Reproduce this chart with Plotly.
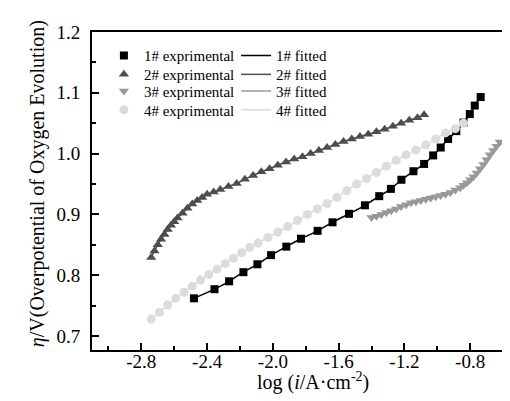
import plotly.graph_objects as go

# ---------------- data ----------------
x1 = [-2.48, -2.355, -2.266, -2.179, -2.094, -2.011, -1.918, -1.829, -1.728, -1.637,
      -1.537, -1.440, -1.353, -1.282, -1.218, -1.145, -1.080, -1.025, -0.979, -0.934,
      -0.884, -0.840, -0.802, -0.772, -0.736]
y1 = [0.762, 0.777, 0.790, 0.805, 0.818, 0.833, 0.847, 0.860, 0.873, 0.887,
      0.901, 0.915, 0.930, 0.942, 0.957, 0.971, 0.983, 0.997, 1.010, 1.024,
      1.037, 1.051, 1.065, 1.079, 1.093]

x2 = [-2.74, -2.72, -2.70, -2.68, -2.66, -2.64, -2.62, -2.60, -2.58, -2.55,
      -2.52, -2.49, -2.46, -2.43, -2.40, -2.36, -2.32, -2.27, -2.22, -2.17,
      -2.12, -2.07, -2.02, -1.97, -1.92, -1.87, -1.82, -1.77, -1.72, -1.67,
      -1.62, -1.57, -1.52, -1.47, -1.42, -1.37, -1.32, -1.27, -1.22, -1.17,
      -1.12, -1.08]
y2 = [0.829, 0.840, 0.850, 0.859, 0.867, 0.875, 0.882, 0.888, 0.894, 0.902,
      0.910, 0.917, 0.923, 0.928, 0.933, 0.937, 0.941, 0.946, 0.951, 0.958,
      0.964, 0.970, 0.975, 0.981, 0.986, 0.991, 0.995, 1.000, 1.005, 1.010,
      1.015, 1.020, 1.024, 1.028, 1.032, 1.036, 1.040, 1.045, 1.050, 1.055,
      1.059, 1.064]

x3 = [-1.40, -1.37, -1.34, -1.31, -1.28, -1.25, -1.22, -1.19, -1.16, -1.13,
      -1.10, -1.07, -1.04, -1.01, -0.98, -0.95, -0.92, -0.89, -0.86, -0.84,
      -0.82, -0.80, -0.78, -0.76, -0.74, -0.72, -0.70, -0.68, -0.66, -0.64,
      -0.62]
y3 = [0.895, 0.897, 0.900, 0.903, 0.906, 0.909, 0.913, 0.916, 0.919, 0.921,
      0.923, 0.925, 0.927, 0.929, 0.931, 0.933, 0.936, 0.940, 0.944, 0.948,
      0.952, 0.957, 0.962, 0.968, 0.975, 0.982, 0.990, 0.998, 1.005, 1.012,
      1.019]

x4 = [-2.74, -2.69, -2.64, -2.59, -2.54, -2.49, -2.44, -2.39, -2.34, -2.29,
      -2.24, -2.19, -2.14, -2.09, -2.03, -1.97, -1.91, -1.85, -1.79, -1.73,
      -1.67, -1.61, -1.55, -1.49, -1.43, -1.37, -1.31, -1.25, -1.19, -1.13,
      -1.07, -1.01, -0.95, -0.89, -0.84]
y4 = [0.728, 0.739, 0.751, 0.762, 0.772, 0.782, 0.792, 0.801, 0.810, 0.819,
      0.828, 0.837, 0.846, 0.853, 0.862, 0.871, 0.880, 0.890, 0.900, 0.909,
      0.918, 0.928, 0.939, 0.950, 0.959, 0.969, 0.979, 0.989, 0.998, 1.006,
      1.014, 1.024, 1.034, 1.041, 1.050]

exp_names = ["1# exprimental", "2# exprimental", "3# exprimental", "4# exprimental"]
fit_names = ["1# fitted", "2# fitted", "3# fitted", "4# fitted"]

x_tickvals = [-2.8, -2.4, -2.0, -1.6, -1.2, -0.8]
x_ticktext = ["-2.8", "-2.4", "-2.0", "-1.6", "-1.2", "-0.8"]
y_tickvals = [0.7, 0.8, 0.9, 1.0, 1.1, 1.2]
y_ticktext = ["0.7", "0.8", "0.9", "1.0", "1.1", "1.2"]

x_title = "log (<i>i</i>/A·cm<sup>-2</sup>)"
y_title = "<i>η</i>/V(Overpotential of Oxygen Evolution)"

# ---------------- style ----------------
FONT = "Liberation Serif, Times New Roman, serif"
colors = ["#000000", "#4d4d4d", "#999999", "#dcdcdc"]
symbols = ["square", "triangle-up", "triangle-down", "circle"]
sizes = [8, 9, 9, 9]
row_y = [0.925, 0.866, 0.814, 0.755]   # legend row centres (paper)
exp_legend_x = 0.028
fit_legend_x = 0.339

series = [(x1, y1), (x2, y2), (x3, y3), (x4, y4)]

fig = go.Figure()
legend_font = dict(family=FONT, size=15, color="black")
legends = {}
for i, (xs, ys) in enumerate(series):
    lf = "legend%d" % (2 * i + 2)
    le = "legend" if i == 0 else "legend%d" % (2 * i + 1)
    fig.add_trace(go.Scatter(
        x=xs, y=ys, mode="lines", name=fit_names[i],
        line=dict(color=colors[i], width=1.5, shape="spline"),
        legend=lf,
    ))
    fig.add_trace(go.Scatter(
        x=xs, y=ys, mode="markers", name=exp_names[i],
        marker=dict(symbol=symbols[i], color=colors[i], size=sizes[i],
                    line=dict(width=0)),
        legend=le,
    ))
    legends[le] = dict(x=exp_legend_x, y=row_y[i], xanchor="left", yanchor="middle",
                       bgcolor="rgba(0,0,0,0)", font=legend_font, itemwidth=30)
    legends[lf] = dict(x=fit_legend_x, y=row_y[i], xanchor="left", yanchor="middle",
                       bgcolor="rgba(0,0,0,0)", font=legend_font, itemwidth=30)

axis_common = dict(
    showgrid=False, zeroline=False, showline=True, linecolor="black",
    linewidth=2, mirror=True, ticks="inside", tickcolor="black",
    tickwidth=1.5, ticklen=7,
    tickfont=dict(family=FONT, size=19, color="black"),
)

fig.update_xaxes(
    range=[-3.1, -0.515], tickmode="array", tickvals=x_tickvals, ticktext=x_ticktext,
    minor=dict(ticks="inside", ticklen=4, tickwidth=1.5, dtick=0.2, tick0=-3.0,
               tickcolor="black"),
    ticklabelstandoff=-7,
    automargin=False, **axis_common,
)
fig.update_yaxes(
    range=[0.677, 1.2], tickmode="array", tickvals=y_tickvals, ticktext=y_ticktext,
    minor=dict(ticks="inside", ticklen=4, tickwidth=1.5, dtick=0.05, tick0=0.7,
               tickcolor="black"),
    ticklabelstandoff=6,
    automargin=False, **axis_common,
)

fig.add_annotation(text=x_title, xref="paper", yref="paper", x=0.52, y=-0.10,
                   xanchor="center", yanchor="middle", showarrow=False,
                   font=dict(family=FONT, size=20, color="black"))
fig.add_annotation(text=y_title, xref="paper", yref="paper", x=-0.129, y=0.522,
                   xanchor="center", yanchor="middle", showarrow=False, textangle=-90,
                   font=dict(family=FONT, size=20, color="black"))

fig.update_layout(
    width=510, height=401,
    margin=dict(l=84, r=1, t=24, b=59),
    paper_bgcolor="white", plot_bgcolor="white",
    font=dict(family=FONT, color="black"),
    showlegend=True,
    **legends,
)

fig.write_html("out.html")
